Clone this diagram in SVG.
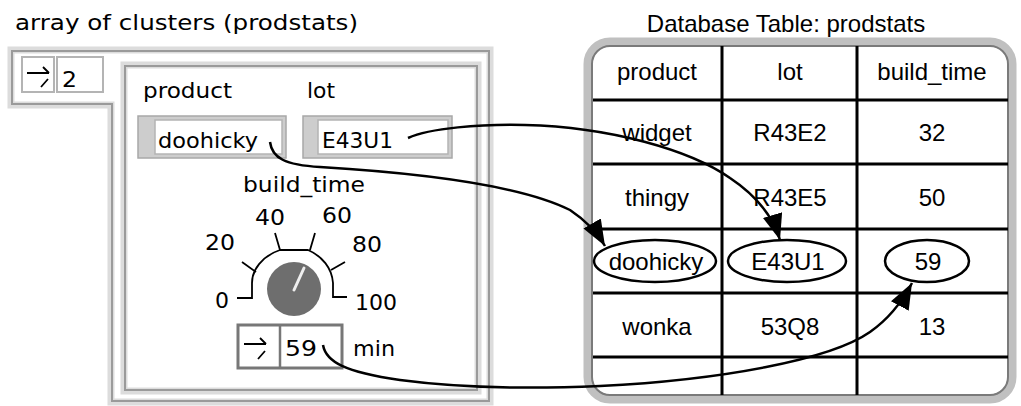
<svg xmlns="http://www.w3.org/2000/svg" width="1021" height="406" viewBox="0 0 1021 406">
<defs>
<style>
.px{font-family:"DejaVu Sans","Liberation Sans",sans-serif;font-size:21px;fill:#000}
.tb{font-family:"Liberation Sans",Arial,sans-serif;font-size:24px;fill:#000;text-anchor:middle}
.conn{fill:none;stroke:#000;stroke-width:2.5}
.grid{stroke:#000;stroke-width:3}
.ell{fill:none;stroke:#000;stroke-width:2.5}
.fr1{fill:none;stroke:#dcdcdc;stroke-width:7}
.fr2{fill:none;stroke:#9a9a9a;stroke-width:2}
</style>
<marker id="ah" viewBox="0 0 26 20" refX="26" refY="10" markerWidth="26" markerHeight="20" markerUnits="userSpaceOnUse" orient="auto">
<path d="M0,0 L26,10 L0,20 Z" fill="#000"/>
</marker>
</defs>
<rect width="1021" height="406" fill="#fff"/>

<g id="array-cluster">
<text class="px" x="15" y="30" textLength="343" lengthAdjust="spacingAndGlyphs">array of clusters (prodstats)</text>
<path class="fr1" d="M11,50 H490 V402 H111 V105 H11 Z"/>
<path class="fr2" d="M12,51 H489 V401 H112 V104 H12 Z"/>
<rect class="fr1" x="124" y="65" width="354" height="326"/>
<rect class="fr2" x="125" y="66" width="352" height="324"/>
</g>

<g id="index">
<rect x="22" y="57" width="32" height="35" fill="#fff" stroke="#b4b4b4" stroke-width="2"/>
<path d="M27,73 H49 M43,67 L49,73 M41,87 L48,79" fill="none" stroke="#000" stroke-width="1.8"/>
<rect x="57" y="57" width="46" height="35" fill="#fff" stroke="#b4b4b4" stroke-width="2"/>
<text class="px" x="62" y="87" textLength="15" lengthAdjust="spacingAndGlyphs">2</text>
</g>

<g id="product-field">
<text class="px" x="143" y="98" textLength="89" lengthAdjust="spacingAndGlyphs">product</text>
<rect x="138" y="116" width="148" height="42" fill="#cdcdcd" stroke="#a8a8a8" stroke-width="1.5"/>
<rect x="155" y="120" width="127" height="34" fill="#fff" stroke="#b4b4b4" stroke-width="1.5"/>
<text class="px" x="158" y="148" textLength="100" lengthAdjust="spacingAndGlyphs">doohicky</text>
</g>

<g id="lot-field">
<text class="px" x="307" y="98" textLength="28" lengthAdjust="spacingAndGlyphs">lot</text>
<rect x="303" y="116" width="149" height="42" fill="#cdcdcd" stroke="#a8a8a8" stroke-width="1.5"/>
<rect x="318" y="120" width="130" height="34" fill="#fff" stroke="#b4b4b4" stroke-width="1.5"/>
<text class="px" x="322" y="148" textLength="71" lengthAdjust="spacingAndGlyphs">E43U1</text>
</g>

<g id="build-time-knob">
<text class="px" x="243" y="192" textLength="122" lengthAdjust="spacingAndGlyphs">build_time</text>
<text class="px" x="255" y="225" textLength="30" lengthAdjust="spacingAndGlyphs">40</text>
<text class="px" x="322" y="223" textLength="30" lengthAdjust="spacingAndGlyphs">60</text>
<text class="px" x="205" y="250" textLength="30" lengthAdjust="spacingAndGlyphs">20</text>
<text class="px" x="352" y="252" textLength="30" lengthAdjust="spacingAndGlyphs">80</text>
<text class="px" x="215" y="308" textLength="14" lengthAdjust="spacingAndGlyphs">0</text>
<text class="px" x="355" y="310" textLength="42" lengthAdjust="spacingAndGlyphs">100</text>
<path d="M237,298 H252 V283 C252,270 262,256 280,250 H308 C322,256 332,268 333,283 V297 H347 M242,262 L256,272 M275,233 L280,250 M315,233 L310,250 M345,262 L331,270" fill="none" stroke="#000" stroke-width="1.8"/>
<circle cx="294" cy="289" r="27" fill="#6e6e6e"/>
<path d="M294,290 L304,268" stroke="#eee" stroke-width="3" stroke-linecap="round"/>
</g>

<g id="build-time-numeric">
<rect x="238" y="325" width="104" height="43" fill="#fff" stroke="#777" stroke-width="3"/>
<line x1="280" y1="325" x2="280" y2="368" stroke="#777" stroke-width="2.5"/>
<path d="M244,344 H266 M260,338 L266,344 M258,359 L265,351" fill="none" stroke="#000" stroke-width="1.8"/>
<text class="px" x="285" y="356" textLength="32" lengthAdjust="spacingAndGlyphs">59</text>
<text class="px" x="353" y="356" textLength="42" lengthAdjust="spacingAndGlyphs">min</text>
</g>

<g id="db-table">
<text class="tb" x="786" y="32">Database Table: prodstats</text>
<rect x="588" y="42" width="424" height="357" rx="22" fill="#fff" stroke="#c0c0c0" stroke-width="9"/>
<rect x="592" y="46" width="416" height="349" rx="18" fill="none" stroke="#7a7a7a" stroke-width="2"/>
<line class="grid" x1="722" y1="46" x2="722" y2="395"/>
<line class="grid" x1="857" y1="46" x2="857" y2="395"/>
<line class="grid" x1="593" y1="100" x2="1008" y2="100"/>
<line class="grid" x1="593" y1="164" x2="1008" y2="164"/>
<line class="grid" x1="593" y1="229" x2="1008" y2="229"/>
<line class="grid" x1="593" y1="293" x2="1008" y2="293"/>
<line class="grid" x1="593" y1="357" x2="1008" y2="357"/>
<text class="tb" x="657" y="80">product</text>
<text class="tb" x="790" y="80">lot</text>
<text class="tb" x="932" y="80">build_time</text>
<text class="tb" x="657" y="141">widget</text>
<text class="tb" x="790" y="141">R43E2</text>
<text class="tb" x="932" y="141">32</text>
<text class="tb" x="657" y="206">thingy</text>
<text class="tb" x="790" y="206">R43E5</text>
<text class="tb" x="932" y="206">50</text>
<ellipse class="ell" cx="655" cy="261" rx="61" ry="21"/>
<ellipse class="ell" cx="787" cy="261" rx="59" ry="21"/>
<ellipse class="ell" cx="927" cy="261" rx="42" ry="21"/>
<text class="tb" x="656" y="270">doohicky</text>
<text class="tb" x="788" y="270">E43U1</text>
<text class="tb" x="928" y="270">59</text>
<text class="tb" x="657" y="335">wonka</text>
<text class="tb" x="790" y="335">53Q8</text>
<text class="tb" x="932" y="335">13</text>
</g>

<g id="connectors">
<path class="conn" marker-end="url(#ah)" d="M408,138 C430,128 480,124 525,125 C610,127 690,150 730,178 C760,198 774,220 780,240"/>
<path class="conn" marker-end="url(#ah)" d="M270,142 C272,158 285,165 320,167 C420,173 520,185 570,210 C585,220 597,232 605,246"/>
<path class="conn" marker-end="url(#ah)" d="M323,345 C326,362 345,372 400,380 C460,388 530,389 600,386 C720,380 830,360 870,332 C890,318 903,300 912,283"/>
</g>
</svg>
